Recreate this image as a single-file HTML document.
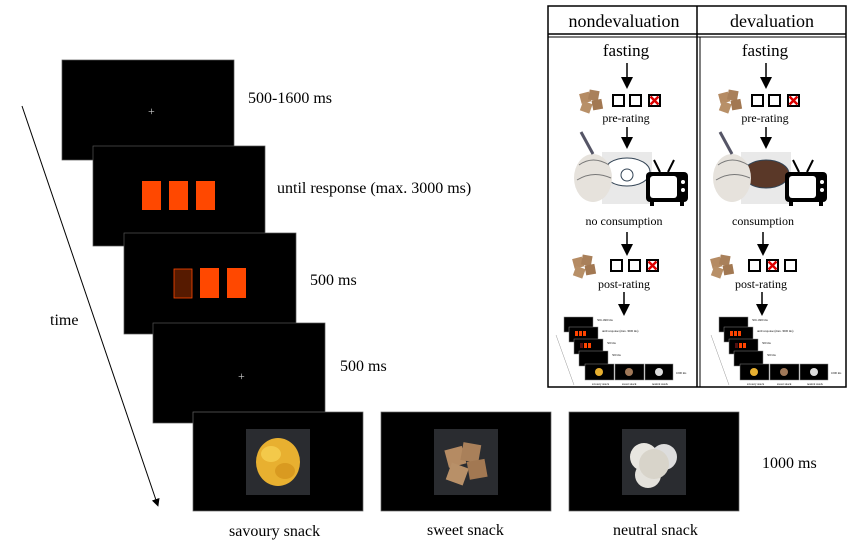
<!DOCTYPE html>
<html><head><style>body{margin:0;background:#fff}svg{display:block}text{font-family:"Liberation Serif",serif;fill:#000}</style></head><body>
<svg width="856" height="547" viewBox="0 0 856 547" xmlns="http://www.w3.org/2000/svg">
<defs>
<marker id="ah" markerWidth="8" markerHeight="8" refX="4" refY="4" orient="auto"><path d="M0,0 L8,4 L0,8z" fill="#000"/></marker>
<g id="cookie">
<rect x="0" y="3" width="10" height="10" fill="#b58b63" transform="rotate(-15 4 7)"/>
<rect x="9" y="0" width="10" height="10" fill="#a9805a" transform="rotate(10 12 4)"/>
<rect x="2" y="12" width="10" height="10" fill="#b89068" transform="rotate(20 6 15)"/>
<rect x="12" y="10" width="10" height="10" fill="#a27852" transform="rotate(-10 15 13)"/>
</g>
<g id="box"><rect x="0" y="0" width="11" height="11" fill="#fff" stroke="#000" stroke-width="2"/></g>
<g id="xbox"><rect x="0" y="0" width="11" height="11" fill="#fff" stroke="#000" stroke-width="2"/><path d="M1.5,1.5 L9.5,9.5 M9.5,1.5 L1.5,9.5" stroke="#d00" stroke-width="2.5"/></g>
<g id="tv"><rect x="0" y="10" width="42" height="30" rx="4" fill="#000"/><rect x="4" y="14" width="27" height="22" rx="3" fill="#fff"/><circle cx="37" cy="20" r="2" fill="#fff"/><circle cx="37" cy="28" r="2" fill="#fff"/><path d="M14,10 L8,-2 M22,10 L28,-2" stroke="#000" stroke-width="2"/><rect x="4" y="40" width="4" height="4" fill="#000"/><rect x="34" y="40" width="4" height="4" fill="#000"/></g>
<g id="head"><ellipse cx="20" cy="28" rx="19" ry="24" fill="#e6e2dc"/><path d="M6,15 Q20,5 36,15" stroke="#777" fill="none"/><path d="M4,30 Q20,20 38,28" stroke="#777" fill="none"/><path d="M20,4 L8,-18" stroke="#556" stroke-width="3"/></g>
<g id="mini">
<rect x="0" y="0" width="29" height="15" fill="#000" stroke="#888" stroke-width=".5"/>
<rect x="5" y="10" width="29" height="15" fill="#000" stroke="#888" stroke-width=".5"/>
<rect x="10" y="22" width="29" height="15" fill="#000" stroke="#888" stroke-width=".5"/>
<rect x="15" y="34" width="29" height="15" fill="#000" stroke="#888" stroke-width=".5"/>
<rect x="21" y="47" width="29" height="16" fill="#000" stroke="#888" stroke-width=".5"/>
<rect x="51" y="47" width="29" height="16" fill="#000" stroke="#888" stroke-width=".5"/>
<rect x="81" y="47" width="28" height="16" fill="#000" stroke="#888" stroke-width=".5"/>
<rect x="11" y="14" width="3" height="5" fill="#f40"/><rect x="15" y="14" width="3" height="5" fill="#f40"/><rect x="19" y="14" width="3" height="5" fill="#f40"/>
<rect x="16" y="26" width="3" height="5" fill="#511"/><rect x="20" y="26" width="3" height="5" fill="#f40"/><rect x="24" y="26" width="3" height="5" fill="#f40"/>
<circle cx="35" cy="55" r="4" fill="#e8b030"/><circle cx="65" cy="55" r="4" fill="#a07858"/><circle cx="95" cy="55" r="4" fill="#ddd"/>
<path d="M-8,18 L10,68" stroke="#999" stroke-width=".5"/>
<text x="33" y="4" font-size="3">500-1600 ms</text><text x="38" y="15" font-size="3">until response (max. 3000 ms)</text>
<text x="43" y="27" font-size="3">500 ms</text><text x="48" y="39" font-size="3">500 ms</text><text x="112" y="57" font-size="3">1000 ms</text>
<text x="28" y="68" font-size="3">savoury snack</text><text x="58" y="68" font-size="3">sweet snack</text><text x="88" y="68" font-size="3">neutral snack</text>
</g>
</defs>

<line x1="22" y1="106" x2="157" y2="503" stroke="#000" stroke-width="1" marker-end="url(#ah)"/>
<text x="50" y="325" font-size="16">time</text>
<rect x="62" y="60" width="172" height="100" fill="#000" stroke="#555" stroke-width=".7"/>
<text x="148" y="115" font-size="12" style="fill:#ccc">+</text>
<rect x="93" y="146" width="172" height="100" fill="#000" stroke="#555" stroke-width=".7"/>
<rect x="142" y="181" width="19" height="29" fill="#ff4800"/><rect x="169" y="181" width="19" height="29" fill="#ff4800"/><rect x="196" y="181" width="19" height="29" fill="#ff4800"/>
<rect x="124" y="233" width="172" height="101" fill="#000" stroke="#555" stroke-width=".7"/>
<rect x="174" y="269" width="18" height="29" fill="#561a00" stroke="#ff4800" stroke-width=".8"/><rect x="200" y="268" width="19" height="30" fill="#ff4800"/><rect x="227" y="268" width="19" height="30" fill="#ff4800"/>
<rect x="153" y="323" width="172" height="100" fill="#000" stroke="#555" stroke-width=".7"/>
<text x="238" y="380" font-size="12" style="fill:#ccc">+</text>
<text x="248" y="103" font-size="16">500-1600 ms</text>
<text x="277" y="193" font-size="16">until response (max. 3000 ms)</text>
<text x="310" y="285" font-size="16">500 ms</text>
<text x="340" y="371" font-size="16">500 ms</text>

<rect x="193" y="412" width="170" height="99" fill="#000" stroke="#666" stroke-width=".7"/>
<rect x="246" y="429" width="64" height="66" fill="#2a2c30"/>
<ellipse cx="278" cy="462" rx="22" ry="24" fill="#e8b030"/><ellipse cx="271" cy="454" rx="10" ry="8" fill="#f3c94a"/><ellipse cx="285" cy="471" rx="10" ry="8" fill="#d99a20"/>
<rect x="381" y="412" width="170" height="99" fill="#000" stroke="#666" stroke-width=".7"/>
<rect x="434" y="429" width="64" height="66" fill="#2a2c30"/>
<use href="#cookie" transform="translate(446,443) scale(1.8)"/>
<rect x="569" y="412" width="170" height="99" fill="#000" stroke="#666" stroke-width=".7"/>
<rect x="622" y="429" width="64" height="66" fill="#2a2c30"/>
<circle cx="644" cy="457" r="14" fill="#e8e6e0"/><circle cx="664" cy="457" r="13" fill="#ddd"/><circle cx="648" cy="475" r="13" fill="#e4e2dc"/><circle cx="654" cy="464" r="15" fill="#d8d4ca"/>
<text x="762" y="468" font-size="16">1000 ms</text>
<text x="229" y="536" font-size="16">savoury snack</text>
<text x="427" y="535" font-size="16">sweet snack</text>
<text x="613" y="535" font-size="16">neutral snack</text>

<rect x="548" y="6" width="298" height="381" fill="#fff" stroke="#000" stroke-width="1.5"/>
<line x1="548" y1="34" x2="846" y2="34" stroke="#000" stroke-width="1.5"/>
<line x1="548" y1="37" x2="846" y2="37" stroke="#000" stroke-width="1"/>
<line x1="697" y1="6" x2="697" y2="387" stroke="#000" stroke-width="1.5"/>
<line x1="700" y1="37" x2="700" y2="387" stroke="#000" stroke-width="1"/>
<text x="624" y="27" font-size="18" text-anchor="middle">nondevaluation</text>
<text x="772" y="27" font-size="18" text-anchor="middle">devaluation</text>

<g>
<text x="626" y="56" font-size="17" text-anchor="middle">fasting</text>
<line x1="627" y1="63" x2="627" y2="83" stroke="#000" stroke-width="1.5" marker-end="url(#ah)"/>
<use href="#cookie" transform="translate(580,90)"/>
<use href="#box" transform="translate(613,95)"/><use href="#box" transform="translate(630,95)"/><use href="#xbox" transform="translate(649,95)"/>
<text x="626" y="122" font-size="12" text-anchor="middle">pre-rating</text>
<line x1="627" y1="127" x2="627" y2="143" stroke="#000" stroke-width="1.5" marker-end="url(#ah)"/>
<rect x="602" y="152" width="50" height="52" fill="#e9e9e9"/>
<ellipse cx="627" cy="172" rx="23" ry="14" fill="#fff" stroke="#345" stroke-width="1"/><circle cx="627" cy="175" r="6" fill="none" stroke="#345"/>
<use href="#head" transform="translate(573,150)"/>
<use href="#tv" transform="translate(646,162)"/>
<text x="624" y="225" font-size="12" text-anchor="middle">no consumption</text>
<line x1="627" y1="232" x2="627" y2="250" stroke="#000" stroke-width="1.5" marker-end="url(#ah)"/>
<use href="#cookie" transform="translate(573,255)"/>
<use href="#box" transform="translate(611,260)"/><use href="#box" transform="translate(629,260)"/><use href="#xbox" transform="translate(647,260)"/>
<text x="624" y="288" font-size="12" text-anchor="middle">post-rating</text>
<line x1="624" y1="292" x2="624" y2="310" stroke="#000" stroke-width="1.5" marker-end="url(#ah)"/>
<use href="#mini" transform="translate(564,317)"/>
</g>

<g>
<text x="765" y="56" font-size="17" text-anchor="middle">fasting</text>
<line x1="766" y1="63" x2="766" y2="83" stroke="#000" stroke-width="1.5" marker-end="url(#ah)"/>
<use href="#cookie" transform="translate(719,90)"/>
<use href="#box" transform="translate(752,95)"/><use href="#box" transform="translate(769,95)"/><use href="#xbox" transform="translate(788,95)"/>
<text x="765" y="122" font-size="12" text-anchor="middle">pre-rating</text>
<line x1="766" y1="127" x2="766" y2="143" stroke="#000" stroke-width="1.5" marker-end="url(#ah)"/>
<rect x="741" y="152" width="50" height="52" fill="#e9e9e9"/>
<ellipse cx="766" cy="174" rx="23" ry="14" fill="#5a3828" stroke="#345" stroke-width="1"/>
<use href="#head" transform="translate(712,150)"/>
<use href="#tv" transform="translate(785,162)"/>
<text x="763" y="225" font-size="12" text-anchor="middle">consumption</text>
<line x1="763" y1="232" x2="763" y2="250" stroke="#000" stroke-width="1.5" marker-end="url(#ah)"/>
<use href="#cookie" transform="translate(711,255)"/>
<use href="#box" transform="translate(749,260)"/><use href="#xbox" transform="translate(767,260)"/><use href="#box" transform="translate(785,260)"/>
<text x="761" y="288" font-size="12" text-anchor="middle">post-rating</text>
<line x1="762" y1="292" x2="762" y2="310" stroke="#000" stroke-width="1.5" marker-end="url(#ah)"/>
<use href="#mini" transform="translate(719,317)"/>
</g>
</svg>
</body></html>
